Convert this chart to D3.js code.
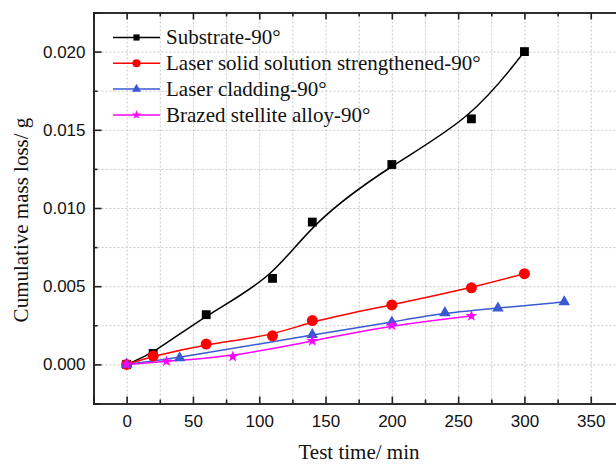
<!DOCTYPE html>
<html>
<head>
<meta charset="utf-8">
<script src="https://cdn.jsdelivr.net/npm/d3@7"></script>
<style>
  body { margin: 0; background: #fff; }
  svg { display: block; }
</style>
</head>
<body>
<svg id="chart" width="616" height="464"></svg>
<script>
// ---- data ----
const seriesNames = ["Substrate-90°", "Laser solid solution strengthened-90°", "Laser cladding-90°", "Brazed stellite alloy-90°"];
const substrateX = [0, 20, 60, 110, 140, 200, 260, 300];
const substrateY = [0, 0.0007, 0.00318, 0.0055, 0.0091, 0.01278, 0.0157, 0.0200];
const solidX = [0, 20, 60, 110, 140, 200, 260, 300];
const solidY = [0, 0.00053, 0.0013, 0.00183, 0.0028, 0.0038, 0.0049, 0.0058];
const claddingX = [0, 40, 140, 200, 240, 280, 330];
const claddingY = [0, 0.00042, 0.0019, 0.0027, 0.0033, 0.0036, 0.0040];
const brazedX = [0, 30, 80, 140, 200, 260];
const brazedY = [0, 0.0002, 0.0005, 0.0015, 0.0025, 0.0031];
const xMajorTicks = [0, 50, 100, 150, 200, 250, 300, 350];
const yMajorTicks = [0, 0.005, 0.010, 0.015, 0.020];
const xAxisTitle = "Test time/ min";
const yAxisTitle = "Cumulative mass loss/ g";

(function () {
// ---- layout ----
const L = 93.5, T = 12.5, B = 403.5;
const pxPer50 = 66.3;
const x = d3.scaleLinear().domain([-25, 375]).range([L, L + 400 * pxPer50 / 50]);
const y = d3.scaleLinear().domain([-0.0025, 0.0225]).range([B, T]);
const xMinor = d3.range(-25, 376, 25);
const yMinor = d3.range(-0.0025, 0.02251, 0.0025);

const svg = d3.select("#chart");
const serif = "'Liberation Serif', 'Times New Roman', serif";

// grid
const gridG = svg.append("g").attr("class", "grid");
gridG.append("g").attr("transform", `translate(0,${B})`)
  .call(d3.axisBottom(x).tickValues(xMinor.filter(v => v > -25)).tickSize(-(B - T)).tickFormat(""))
  .call(g => g.select(".domain").remove());
gridG.append("g").attr("transform", `translate(${L},0)`)
  .call(d3.axisLeft(y).tickValues(yMinor.filter(v => v > -0.0024 && v < 0.0224)).tickSize(-(x.range()[1] - L)).tickFormat(""))
  .call(g => g.select(".domain").remove());
gridG.selectAll("line").attr("stroke", "#c8c8c8").attr("stroke-width", 1).attr("stroke-dasharray", "2,2");

// series
const series = [
  { name: seriesNames[0], xs: substrateX, ys: substrateY, color: "#000000", sym: d3.symbolSquare, size: 78, lsize: 38 },
  { name: seriesNames[1], xs: solidX, ys: solidY, color: "#ff0000", sym: d3.symbolCircle, size: 95, lsize: 52 },
  { name: seriesNames[2], xs: claddingX, ys: claddingY, color: "#3a5ad2", sym: d3.symbolTriangle, size: 58, lsize: 36 },
  { name: seriesNames[3], xs: brazedX, ys: brazedY, color: "#ff00ff", sym: d3.symbolStar, size: 42, lsize: 26 }
];

const line = d3.line().x(d => x(d[0])).y(d => y(d[1])).curve(d3.curveBasis);
const plotG = svg.append("g");
series.forEach(s => {
  const pts = s.xs.map((v, i) => [v, s.ys[i]]);
  plotG.append("path").datum(pts).attr("d", line)
    .attr("fill", "none").attr("stroke", s.color).attr("stroke-width", 1.5);
});
series.forEach(s => {
  const pts = s.xs.map((v, i) => [v, s.ys[i]]);
  plotG.selectAll(null).data(pts).enter().append("path")
    .attr("d", d3.symbol().type(s.sym).size(s.size))
    .attr("transform", d => `translate(${x(d[0])},${y(d[1])})`)
    .attr("fill", s.color);
});

// axes
const axisColor = "#222";
const axBottom = svg.append("g").attr("transform", `translate(0,${B})`)
  .call(d3.axisBottom(x).tickValues(xMajorTicks).tickSize(-7).tickPadding(11).tickFormat(d3.format("d")));
const axBottomMinor = svg.append("g").attr("transform", `translate(0,${B})`)
  .call(d3.axisBottom(x).tickValues(xMinor.filter(v => v % 50 !== 0)).tickSize(-4).tickFormat(""));
const axTop = svg.append("g").attr("transform", `translate(0,${T})`)
  .call(d3.axisTop(x).tickValues(xMajorTicks).tickSize(-7).tickFormat(""));
const axTopMinor = svg.append("g").attr("transform", `translate(0,${T})`)
  .call(d3.axisTop(x).tickValues(xMinor.filter(v => v % 50 !== 0)).tickSize(-4).tickFormat(""));
const axLeft = svg.append("g").attr("transform", `translate(${L},0)`)
  .call(d3.axisLeft(y).tickValues(yMajorTicks).tickSize(-8).tickPadding(8).tickFormat(d3.format(".3f")));
const axLeftMinor = svg.append("g").attr("transform", `translate(${L},0)`)
  .call(d3.axisLeft(y).tickValues(yMinor.filter(v => Math.abs(Math.round(v / 0.005) * 0.005 - v) > 1e-6)).tickSize(-4).tickFormat(""));

[axBottom, axBottomMinor, axTop, axTopMinor, axLeft, axLeftMinor].forEach(g => {
  g.select(".domain").attr("stroke", axisColor).attr("stroke-width", 1.6);
  g.selectAll(".tick line").attr("stroke", axisColor).attr("stroke-width", 1.6);
  g.selectAll("text").attr("font-family", "'Liberation Sans', Arial, sans-serif").attr("font-size", 17).attr("fill", "#111");
});

// axis titles
svg.append("text").attr("x", 359).attr("y", 459)
  .attr("text-anchor", "middle").attr("font-family", serif)
  .attr("font-size", 21).attr("fill", "#111").text(xAxisTitle);
svg.append("text").attr("transform", "translate(28,220) rotate(-90)")
  .attr("text-anchor", "middle").attr("font-family", serif)
  .attr("font-size", 21).attr("fill", "#111").text(yAxisTitle);

// legend
const legend = svg.append("g");
series.forEach((s, i) => {
  const ly = 37.5 + i * 25.8;
  legend.append("line").attr("x1", 113).attr("x2", 160).attr("y1", ly).attr("y2", ly)
    .attr("stroke", s.color).attr("stroke-width", 1.5);
  legend.append("path").attr("d", d3.symbol().type(s.sym).size(s.lsize))
    .attr("transform", `translate(136.5,${ly})`).attr("fill", s.color);
  legend.append("text").attr("x", 166).attr("y", ly).attr("dy", "0.33em")
    .attr("font-family", serif)
    .attr("font-size", 21).attr("fill", "#111").text(s.name);
});
})();
</script>
</body>
</html>
